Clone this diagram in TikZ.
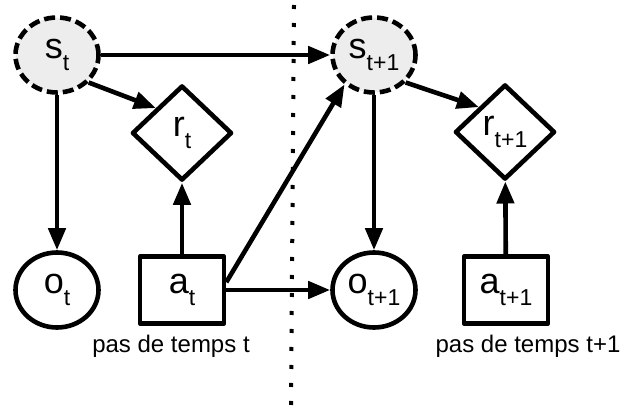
\documentclass[tikz,border=0pt]{standalone}
\usepackage{fontspec}
\setmainfont{Liberation Sans}
\usetikzlibrary{shapes.geometric,arrows.meta}
\tikzset{>={Triangle[length=22pt,width=17pt]}}
\newcommand{\subt}[1]{\raisebox{-12.5pt}{\fontsize{23}{23}\selectfont #1}}

\begin{document}
\begin{tikzpicture}[x=1pt, y=1pt, line join = round, line width=4.6pt,
    every node/.style={font=\fontsize{36}{36}\selectfont, inner sep=0pt},
    state/.style={ellipse, draw, dash pattern=on 11pt off 5pt, fill=black!7, minimum width=83pt, minimum height=75pt},
    obs/.style={ellipse, draw, minimum width=83pt, minimum height=75pt},
    rew/.style={diamond, draw, minimum width=100pt, minimum height=95pt},
    act/.style={rectangle, draw, minimum width=84pt, minimum height=67pt},
    caption/.style={font=\fontsize{24}{24}\selectfont, anchor=base},
    arr/.style={->, solid}]
    \useasboundingbox (0,0) rectangle (620,408);

    % separation between the two time steps
    \coordinate (septop) at (294,403);
    \coordinate (sepbot) at (291,0);
    \draw[line width=4pt, dash pattern=on 4pt off 14pt] (septop) -- (sepbot);

    % time step t
    \node[state] (st) at (57,353) {s\subt{t}};
    \node[rew] (rt) at (182,275) {r\subt{t}};
    \node[obs] (ot) at (57,118) {o\subt{t}};
    \node[act] (at) at (182,118) {a\subt{t}};
    \node[caption] (capt) at (171,56) {pas de temps t};

    % time step t+1
    \node[state] (st1) at (374,353) {s\subt{t+1}};
    \node[rew] (rt1) at (505,276) {r\subt{t+1}};
    \node[obs] (ot1) at (374,118) {o\subt{t+1}};
    \node[act] (at1) at (506,118) {a\subt{t+1}};
    \node[caption] (capt1) at (528,56) {pas de temps t+1};

    \draw[arr] (st) -- (st1);
    \draw[arr] (st.-41) -- (rt.north west);
    \draw[arr] (st) -- (ot);
    \draw[arr] (at) -- (rt);
    \draw[arr] (at.10) -- (st1.225);
    \draw[arr] (at) -- (ot1);
    \draw[arr] (st1.-41) -- (rt1.north west);
    \draw[arr] (st1) -- (ot1);
    \draw[arr] (at1) -- (rt1);

\end{tikzpicture}
\end{document}
